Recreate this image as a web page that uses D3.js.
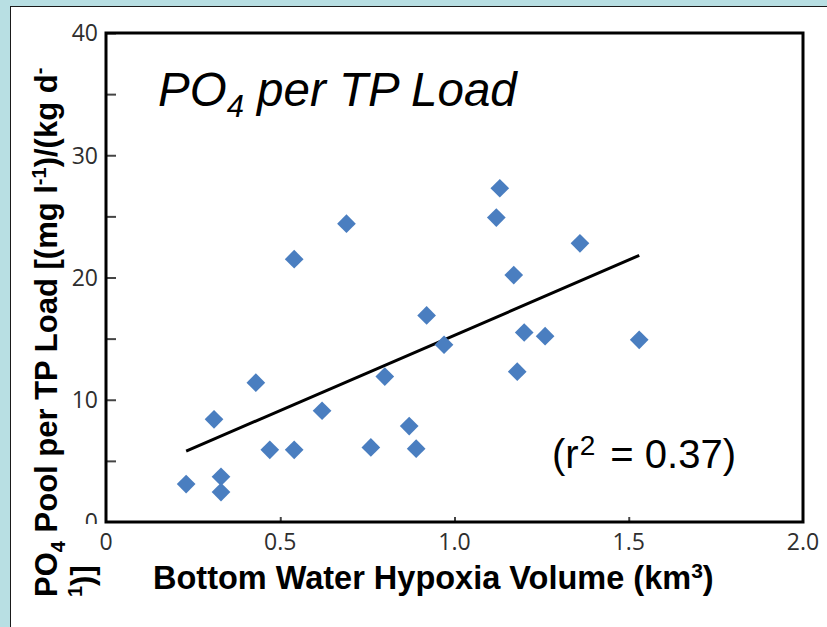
<!DOCTYPE html>
<html>
<head>
<meta charset="utf-8">
<script src="https://cdn.jsdelivr.net/npm/d3@7"></script>
<style>
  body { margin: 0; background: #b8dfe3; }
  svg { display: block; }
</style>
</head>
<body>
<script>
//scatter data
var hypoxiaVol = [0.23, 0.31, 0.33, 0.33, 0.43, 0.47, 0.54, 0.54, 0.62, 0.69, 0.76, 0.80,
                  0.87, 0.89, 0.92, 0.97, 1.13, 1.12, 1.17, 1.18, 1.20, 1.26, 1.36, 1.53];
var po4PerTp = [3.1, 8.4, 3.7, 2.45, 11.4, 5.9, 5.9, 21.5, 9.1, 24.4, 6.1, 11.9,
                7.85, 6.0, 16.9, 14.5, 27.3, 24.9, 20.2, 12.3, 15.5, 15.2, 22.8, 14.9];

//fitted line end points
var trendX = [0.23, 1.53];
var trendY = [5.8, 21.8];

//tick labels
var xTicks = [0, 0.5, 1.0, 1.5, 2.0];
var xTickLabels = ["0", "0.5", "1.0", "1.5", "2.0"];
var yTicks = [0, 10, 20, 30, 40];
var yMinorTicks = [5, 15, 25, 35];

var width = 827, height = 627;

var svg = d3.select("body").append("svg")
    .attr("width", width)
    .attr("height", height);

//white slide panel
svg.append("rect")
    .attr("x", 10.5).attr("y", 6.5)
    .attr("width", width).attr("height", height)
    .attr("fill", "#fff")
    .attr("stroke", "#1a1a1a")
    .attr("stroke-width", 1);

var x = d3.scaleLinear().domain([0, 2]).range([106, 803]);
var y = d3.scaleLinear().domain([0, 40]).range([522, 33]);

var tickFont = "'Open Sans', 'DejaVu Sans', sans-serif";

//y axis ticks (pointing inward)
svg.append("g")
    .attr("transform", "translate(" + x(0) + ",0)")
    .call(d3.axisRight(y).tickValues(yMinorTicks.concat(yTicks.slice(1))).tickSize(10).tickFormat(""))
    .call(function(g){
        g.select(".domain").remove();
        g.selectAll("line").attr("stroke", "#444").attr("stroke-width", 2);
    });

//y tick labels
svg.append("clipPath").attr("id", "yclip")
    .append("rect").attr("x", 0).attr("y", 0).attr("width", 105).attr("height", 524);
svg.append("g")
    .attr("clip-path", "url(#yclip)")
    .selectAll("text")
    .data(yTicks)
    .enter()
    .append("text")
    .attr("x", 98)
    .attr("y", function(d){ return y(d); })
    .attr("dy", "0.36em")
    .attr("text-anchor", "end")
    .attr("font-family", tickFont)
    .attr("font-size", 23)
    .attr("fill", "#2e2e2e")
    .text(function(d){ return d; });

//x axis small ticks
svg.append("g")
    .attr("transform", "translate(0," + y(0) + ")")
    .call(d3.axisTop(x).tickValues([0.5, 1.0, 1.5]).tickSize(5).tickFormat(""))
    .call(function(g){
        g.select(".domain").remove();
        g.selectAll("line").attr("stroke", "#444").attr("stroke-width", 2);
    });

//x tick labels
svg.append("g")
    .selectAll("text")
    .data(xTicks)
    .enter()
    .append("text")
    .attr("x", function(d){ return x(d); })
    .attr("y", 550)
    .attr("text-anchor", "middle")
    .attr("font-family", tickFont)
    .attr("font-size", 23)
    .attr("fill", "#2e2e2e")
    .text(function(d, i){ return xTickLabels[i]; });

//plot frame
svg.append("path")
    .attr("d", "M" + x(0) + "," + y(40) + "V" + y(0) + "H" + x(2) + "V" + y(40) + "Z")
    .attr("fill", "none")
    .attr("stroke", "#000")
    .attr("stroke-width", 3);

//trend line
var line = d3.line()
    .x(function(d){ return x(d[0]); })
    .y(function(d){ return y(d[1]); });
svg.append("path")
    .datum(d3.zip(trendX, trendY))
    .attr("d", line)
    .attr("fill", "none")
    .attr("stroke", "#000")
    .attr("stroke-width", 3);

//diamond markers
var diamond = d3.symbol().type(d3.symbolSquare).size(175);
svg.selectAll(".pt")
    .data(d3.zip(hypoxiaVol, po4PerTp))
    .enter()
    .append("path")
    .attr("class", "pt")
    .attr("d", diamond)
    .attr("transform", function(d){
        return "translate(" + x(d[0]) + "," + y(d[1]) + ") rotate(45)";
    })
    .attr("fill", "#4a7ec0");

var labelFont = "'Liberation Sans', Arial, sans-serif";

//panel title
var title = svg.append("text")
    .attr("x", 158).attr("y", 106)
    .attr("font-family", labelFont)
    .attr("font-size", 47.5)
    .attr("font-style", "italic")
    .attr("fill", "#000");
title.append("tspan").text("PO");
title.append("tspan").attr("dy", 11).attr("font-size", 31).text("4");
title.append("tspan").attr("dy", -11).text(" per TP Load");

//r squared note
var rNote = svg.append("text")
    .attr("x", 552).attr("y", 468)
    .attr("font-family", labelFont)
    .attr("font-size", 40)
    .attr("fill", "#000");
rNote.append("tspan").text("(r");
rNote.append("tspan").attr("dx", 1).attr("dy", -13).attr("font-size", 28).text("2");
rNote.append("tspan").attr("dy", 13).attr("dx", 4).text(" = 0.37)");

//x axis title
var xTitle = svg.append("text")
    .attr("x", 153).attr("y", 589)
    .attr("font-family", labelFont)
    .attr("font-size", 32.5)
    .attr("font-weight", "bold")
    .attr("fill", "#000");
xTitle.append("tspan").text("Bottom Water Hypoxia Volume (km");
xTitle.append("tspan").attr("dy", -11).attr("font-size", 21).text("3");
xTitle.append("tspan").attr("dy", 11).text(")");

//y axis title, two lines
var yTitle = svg.append("text")
    .attr("transform", "translate(57,597) rotate(-90)")
    .attr("font-family", labelFont)
    .attr("font-size", 31)
    .attr("font-weight", "bold")
    .attr("fill", "#000");
yTitle.append("tspan").text("PO");
yTitle.append("tspan").attr("dy", 8).attr("font-size", 20).text("4");
yTitle.append("tspan").attr("dy", -8).text(" Pool per TP Load [(mg l");
yTitle.append("tspan").attr("dy", -11).attr("font-size", 20).text("-1");
yTitle.append("tspan").attr("dy", 11).text(")/(kg d");
yTitle.append("tspan").attr("dy", -11).attr("font-size", 20).text("-");

var yTitle2 = svg.append("text")
    .attr("transform", "translate(93,597) rotate(-90)")
    .attr("font-family", labelFont)
    .attr("font-size", 31)
    .attr("font-weight", "bold")
    .attr("fill", "#000");
yTitle2.append("tspan").attr("dy", -11).attr("font-size", 20).text("1");
yTitle2.append("tspan").attr("dy", 11).text(")]");
</script>
</body>
</html>
